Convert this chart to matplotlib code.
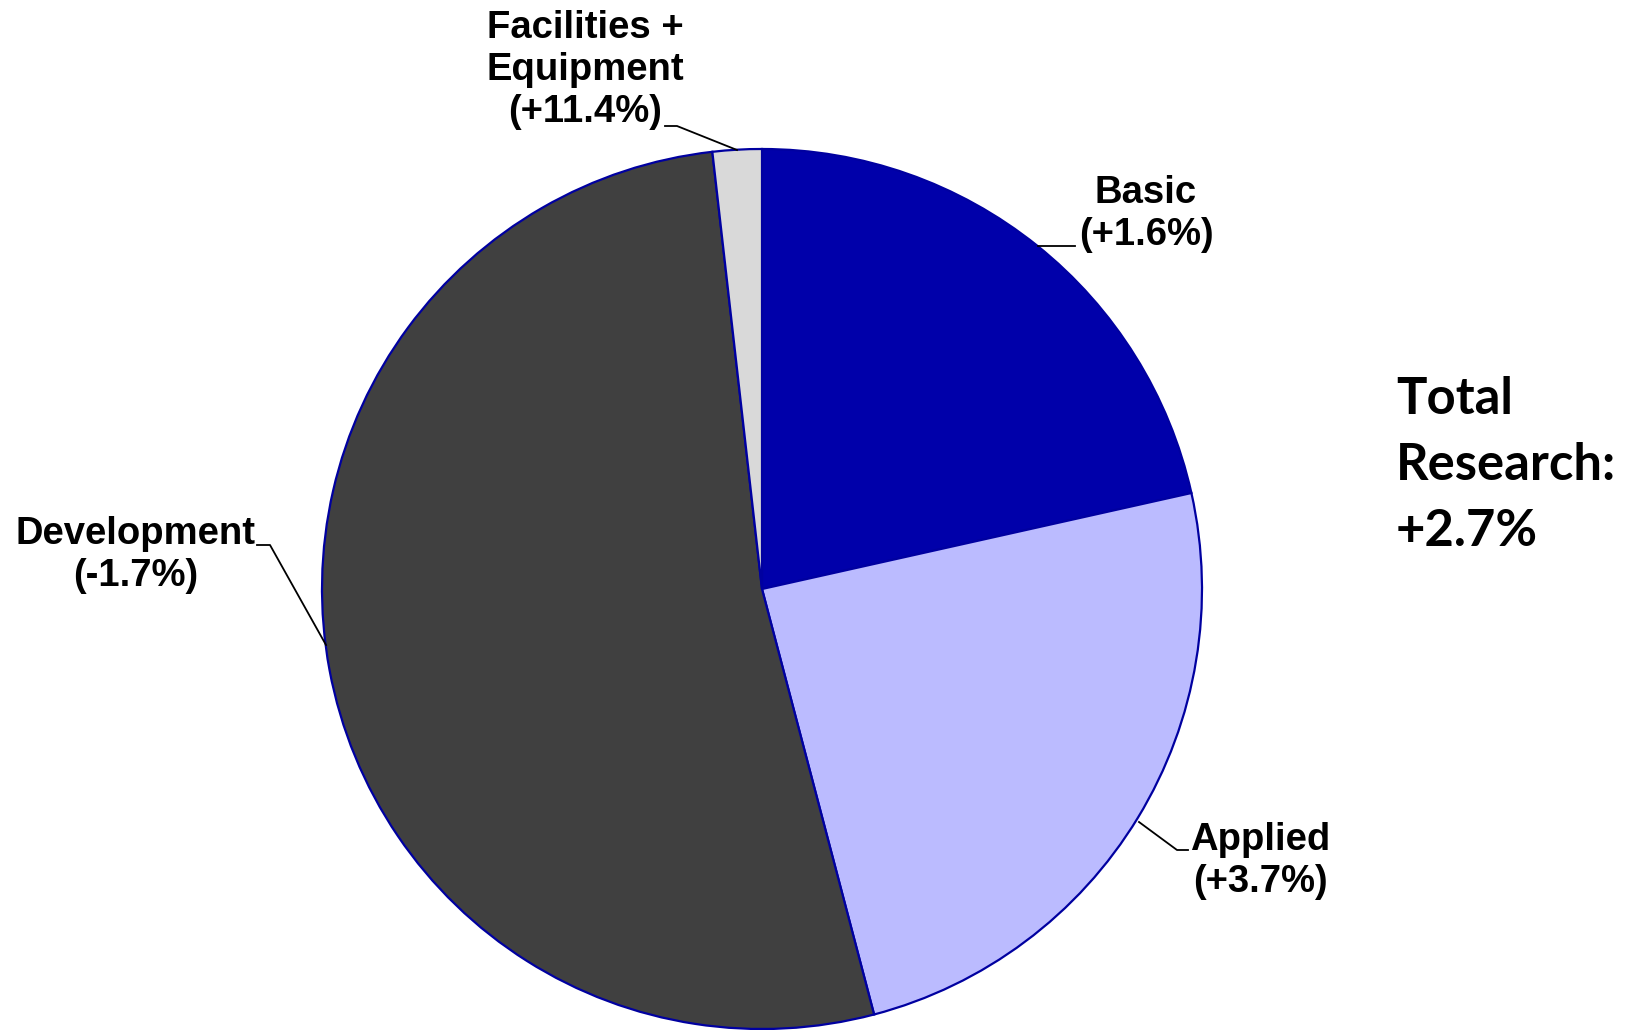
import matplotlib.pyplot as plt

# Data
categories = ["Basic", "Applied", "Development", "Facilities +\nEquipment"]
shares = [21.5, 24.4, 52.3, 1.8]
changes = ["+1.6%", "+3.7%", "-1.7%", "+11.4%"]
colors = ["#0000AA", "#BBBBFF", "#404040", "#D9D9D9"]
total_change = "+2.7%"

W, H = 1629, 1030

fig = plt.figure(figsize=(W / 100, H / 100), dpi=100)
ax = fig.add_axes([0, 0, 1, 1])


def py(y):
    # pixel row -> data y
    return H - y


ax.pie(shares, colors=colors, startangle=90, counterclock=False,
       center=(762, py(589)), radius=440,
       wedgeprops=dict(edgecolor="#0000A0", linewidth=1.6))
ax.set_xlim(0, W)
ax.set_ylim(0, H)
ax.set_aspect("equal")
ax.axis("off")

lab_font = dict(family="Liberation Sans", fontweight="bold", fontsize=27.5,
                color="black", linespacing=1.2)

# labels: (x, y, ha)
label_pos = [(1146, 214, "center"), (1260, 861, "center"),
             (136, 555, "center"), (585, 70, "center")]
for name, ch, (x, y, ha) in zip(categories, changes, label_pos):
    ax.text(x, py(y), f"{name}\n({ch})", ha=ha, va="center", **lab_font)

# leader lines
leaders = [
    [(1038, 246), (1075, 246)],
    [(1139, 822), (1177, 850), (1188, 850)],
    [(257, 545), (270, 545), (326, 645)],
    [(665, 126), (677, 126), (737, 150)],
]
for pts in leaders:
    ax.plot([p[0] for p in pts], [py(p[1]) for p in pts], color="black", lw=1.3)

ax.text(1396, py(466), f"Total\nResearch:\n{total_change}", ha="left", va="center",
        family="Lato", fontweight="bold", fontsize=36.5, linespacing=1.5)

fig.savefig("out.png", dpi=100)
